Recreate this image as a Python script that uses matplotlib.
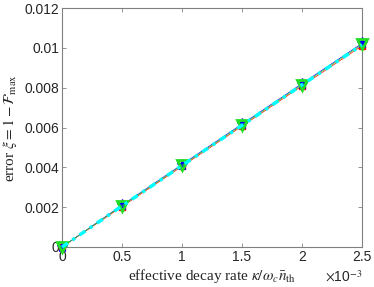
import matplotlib
matplotlib.use('Agg')
import matplotlib.pyplot as plt

plt.rcParams['mathtext.fontset'] = 'stix'
plt.rcParams['font.family'] = ['Liberation Sans', 'DejaVu Sans']

# decay rate (units of 1)
kappa = [0, 0.5e-3, 1.0e-3, 1.5e-3, 2.0e-3, 2.5e-3]
err_red = [0, 0.00203, 0.00405, 0.00607, 0.00809, 0.01010]
err_blue = [0, 0.00210, 0.00414, 0.00617, 0.00820, 0.01022]
err_green = [0, 0.00207, 0.00410, 0.00612, 0.00815, 0.01017]
err_cyan = [0, 0.00206, 0.00409, 0.00611, 0.00814, 0.01015]

xticks = [0, 0.5e-3, 1.0e-3, 1.5e-3, 2.0e-3, 2.5e-3]
xticklabels = ['0', '0.5', '1', '1.5', '2', '2.5']
yticks = [0, 0.002, 0.004, 0.006, 0.008, 0.01, 0.012]
yticklabels = ['0', '0.002', '0.004', '0.006', '0.008', '0.01', '0.012']

fig = plt.figure(figsize=(3.74, 2.87), dpi=100)
ax = fig.add_axes([62/374, 1-247/287, 300/374, 239/287])

ax.plot(kappa, err_red, '-s', color='red', ms=5, lw=0.5, zorder=2, clip_on=False)
ax.plot(kappa, err_blue, '-*', color='blue', ms=8, lw=0.5, zorder=3, clip_on=False)
ax.plot(kappa, err_green, '-v', color='#22dd22', ms=7, lw=0.5, mfc='none', mew=2,
        zorder=4, clip_on=False)
ax.plot(kappa, err_cyan, color='cyan', lw=2.5, dashes=(2.0, 1.6, 0.9, 1.6), zorder=5,
        clip_on=False)

ax.set_xlim(0, 2.5e-3)
ax.set_ylim(0, 0.012)
ax.set_xticks(xticks)
ax.set_xticklabels(xticklabels)
ax.set_yticks(yticks)
ax.set_yticklabels(yticklabels)
ax.tick_params(direction='in', length=3, width=0.6, colors='#808080',
               labelcolor='#262626', labelsize=10, top=True, right=True, pad=2)
for s in ax.spines.values():
    s.set_color('#808080')
    s.set_linewidth(0.8)

ax.set_xlabel(r'effective decay rate $\kappa/\omega_c\bar{n}_{\rm th}$',
              family='Liberation Serif', fontsize=11, color='#262626', labelpad=2)
ax.set_ylabel(r'error $\xi = 1-\mathcal{F}_{\rm max}$',
              family='Liberation Serif', fontsize=11, color='#262626', labelpad=4)
ax.text(1.0, -0.125, r'$\times$10$^{-3}$', transform=ax.transAxes, ha='right',
        va='center', fontsize=10, color='#262626')

fig.savefig('out.png', dpi=100)
